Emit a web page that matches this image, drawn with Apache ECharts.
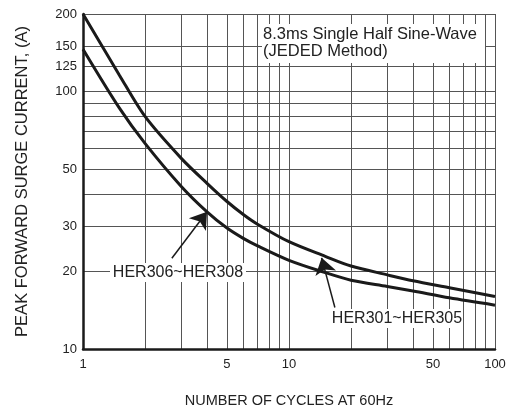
<!DOCTYPE html>
<html><head><meta charset="utf-8">
<script src="https://cdn.jsdelivr.net/npm/echarts@6/dist/echarts.min.js"></script>
<style>html,body{margin:0;padding:0;background:#fff}#c{width:507px;height:412px}</style>
</head><body><div id="c"></div>
<script>
// ---- data ----
const cycles      = [1, 1.5, 2, 3, 4, 5, 6, 7, 10, 15, 20, 30, 40, 60, 100];
const her301_305  = [200, 116, 80, 55, 44, 37.4, 33.3, 30.6, 26.1, 22.9, 21.0, 19.4, 18.4, 17.3, 16.0];
const her306_308  = [146, 86.4, 62.9, 42.8, 34.1, 29.5, 26.9, 25.2, 22.1, 19.8, 18.5, 17.5, 16.8, 15.8, 14.8];
const xGridValues = [1,2,3,4,5,6,7,8,9,10,20,30,40,50,60,70,80,90,100];
const xTickLabels = [1,5,10,50,100];
const yGridValues = [10,20,30,40,50,60,70,80,90,100,125,150,200];
const yTickLabels = [10,20,30,50,100,125,150,200];
const arrow306    = [[2.7, 22.5],[4.0, 34.1]];
const arrow301    = [[16.7, 14.5],[14.4, 22.6]];
const seriesNames = ['HER301~HER305','HER306~HER308'];
const noteText    = '8.3ms Single Half Sine-Wave\n(JEDED Method)';

const FONT = '"Liberation Sans", Arial, Helvetica, sans-serif';
const INK = '#1a1a1a';

const chart = echarts.init(document.getElementById('c'), null, {renderer:'canvas'});
function pairs(xs, ys){ return xs.map((x,i)=>[x, ys[i]]); }
function arrowML(a){
  return {
    silent:true, animation:false,
    symbol:['none','arrow'], symbolSize:16,
    label:{show:false},
    itemStyle:{color:INK},
    lineStyle:{color:INK, width:1.5, type:'solid'},
    emphasis:{disabled:true},
    data:[[{coord:a[0]},{coord:a[1]}]]
  };
}
chart.setOption({
  animation:false,
  backgroundColor:'#fff',
  grid:{left:83, right:12, top:14, bottom:63, containLabel:false, outerBoundsMode:'none'},
  xAxis:{
    type:'log', logBase:10, min:1, max:100,
    name:'NUMBER OF CYCLES AT 60Hz', nameLocation:'middle', nameGap:44,
    nameTextStyle:{fontFamily:FONT, fontSize:14.5, color:'#222'},
    axisLine:{show:true, onZero:false, lineStyle:{color:INK, width:2.5}},
    axisTick:{show:false, customValues:xGridValues},
    axisLabel:{customValues:xTickLabels, fontFamily:FONT, fontSize:13, color:'#222', margin:9},
    splitLine:{show:true, lineStyle:{color:'#555', width:1}}
  },
  yAxis:{
    type:'log', logBase:10, min:10, max:200,
    name:'PEAK FORWARD SURGE CURRENT, (A)', nameLocation:'middle', nameGap:52, nameRotate:90,
    nameTextStyle:{fontFamily:FONT, fontSize:16.5, color:'#222'},
    axisLine:{show:true, onZero:false, lineStyle:{color:INK, width:2.5}},
    axisTick:{show:false, customValues:yGridValues},
    axisLabel:{customValues:yTickLabels, fontFamily:FONT, fontSize:13, color:'#222', margin:6},
    splitLine:{show:true, lineStyle:{color:'#555', width:1}}
  },
  series:[
    {name:seriesNames[0], type:'line', data:pairs(cycles, her301_305), showSymbol:false,
     smooth:0.3, lineStyle:{color:INK, width:3}, itemStyle:{color:INK},
     markLine:arrowML(arrow301)},
    {name:seriesNames[1], type:'line', data:pairs(cycles, her306_308), showSymbol:false,
     smooth:0.3, lineStyle:{color:INK, width:3}, itemStyle:{color:INK},
     markLine:arrowML(arrow306)}
  ],
  graphic:[
    {type:'rect', z:10, shape:{x:262, y:24, width:223, height:39}, style:{fill:'#fff'}},
    {type:'text', z:11, left:263, top:26, style:{text:noteText, font:'16.5px '+FONT, fill:'#222', lineHeight:16.5}},
    {type:'rect', z:10, shape:{x:110, y:263, width:136, height:19}, style:{fill:'#fff'}},
    {type:'text', z:11, style:{x:178, y:272.5, text:seriesNames[1], font:'16px '+FONT, fill:'#222', align:'center', verticalAlign:'middle'}},
    {type:'rect', z:10, shape:{x:331, y:309, width:132, height:19}, style:{fill:'#fff'}},
    {type:'text', z:11, style:{x:397, y:318.5, text:seriesNames[0], font:'16px '+FONT, fill:'#222', align:'center', verticalAlign:'middle'}}
  ]
});
</script></body></html>
